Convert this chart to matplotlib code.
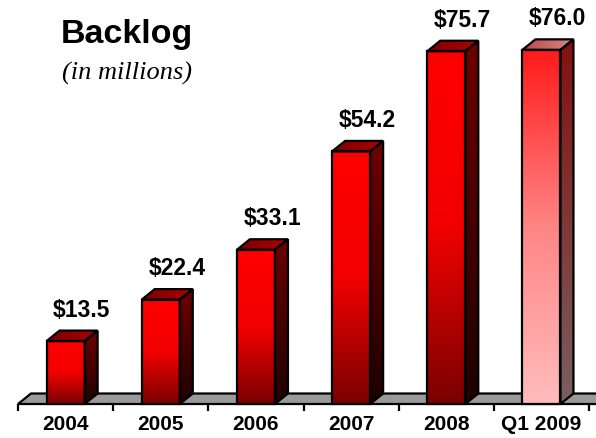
import matplotlib.pyplot as plt
import numpy as np
from matplotlib.colors import LinearSegmentedColormap
from matplotlib.patches import Polygon

# Backlog per period, $ millions
periodos = ["2004", "2005", "2006", "2007", "2008", "Q1 2009"]
valores = [13.5, 22.4, 33.1, 54.2, 75.7, 76.0]
rotulos = ["$13.5", "$22.4", "$33.1", "$54.2", "$75.7", "$76.0"]

# cores das faces (frente, lateral, topo): do alto para a base
cores_normais = {
    "frente": ["#ff0000", "#f20000", "#7a0000"],
    "lado": ["#6e0000", "#1e0000"],
    "topo": ["#7a0000", "#b00000"],
}
cores_destaque = {
    "frente": ["#ff1a1a", "#ff8585", "#ffbcbc"],
    "lado": ["#841010", "#7a6060"],
    "topo": ["#b84848", "#d88888"],
}

W, H = 596, 438
fig = plt.figure(figsize=(W / 100, H / 100), dpi=100)
ax = fig.add_axes([0, 0, 1, 1])
ax.set_axis_off()

px_x = 95.17   # pixels por categoria
px_y = 4.66    # pixels por milhão
x0, y0 = 18, 404
ax.set_xlim(-x0 / px_x, (W - x0) / px_x)
ax.set_ylim(-(H - y0) / px_y, y0 / px_y)

dx = 13 / px_x      # profundidade 3D
dy = 10.5 / px_y
largura = 0.40
lw = 1.6


def face_gradiente(verts, cores, horizontal=False, z=3):
    poly = Polygon(verts, closed=True, facecolor="none", edgecolor="black",
                   linewidth=lw, joinstyle="miter", zorder=z + 0.5)
    ax.add_patch(poly)
    xs = [v[0] for v in verts]
    ys = [v[1] for v in verts]
    cmap = LinearSegmentedColormap.from_list("f", cores)
    grad = np.linspace(0, 1, 256)
    if horizontal:
        img = grad[None, :]
    else:
        img = grad[:, None]
    im = ax.imshow(img, cmap=cmap, aspect="auto", origin="upper",
                   extent=(min(xs), max(xs), min(ys), max(ys)),
                   interpolation="bilinear", zorder=z)
    im.set_clip_path(poly)


# piso
n = len(periodos)
piso = Polygon([(0, 0), (n + 0.1, 0), (n + 0.1 + dx, dy), (dx, dy)],
               closed=True, facecolor="#9a9a9a", edgecolor="black",
               linewidth=lw, zorder=1)
ax.add_patch(piso)

# marcas do eixo
for i in range(n + 1):
    ax.plot([i, i], [0, -7 / px_y], color="black", lw=lw, zorder=2,
            solid_capstyle="butt")

for i, (v, nome, rot) in enumerate(zip(valores, periodos, rotulos)):
    cores = cores_destaque if i == n - 1 else cores_normais
    c = i + 0.5
    xl, xr = c - largura / 2, c + largura / 2
    face_gradiente([(xr, 0), (xr + dx, dy), (xr + dx, v + dy), (xr, v)],
                   cores["lado"])
    face_gradiente([(xl, v), (xr, v), (xr + dx, v + dy), (xl + dx, v + dy)],
                   cores["topo"], horizontal=True)
    face_gradiente([(xl, 0), (xr, 0), (xr, v), (xl, v)], cores["frente"])

    ax.text(c + 0.17, v + dy + 14 / px_y, rot, ha="center", va="baseline",
            fontsize=16.5, fontweight="bold", family="Liberation Sans",
            zorder=6)
    ax.text(c, -21 / px_y, nome, ha="center", va="center", fontsize=15,
            fontweight="bold", family="Liberation Sans", zorder=6)

fig.text(127 / W, 1 - 34 / H, "Backlog", ha="center", va="center",
         fontsize=24.5, fontweight="bold", family="Liberation Sans")
fig.text(127 / W, 1 - 73 / H, "(in millions)", ha="center", va="center",
         fontsize=19, style="italic", family="Liberation Serif")

fig.savefig("out.png", dpi=100)
